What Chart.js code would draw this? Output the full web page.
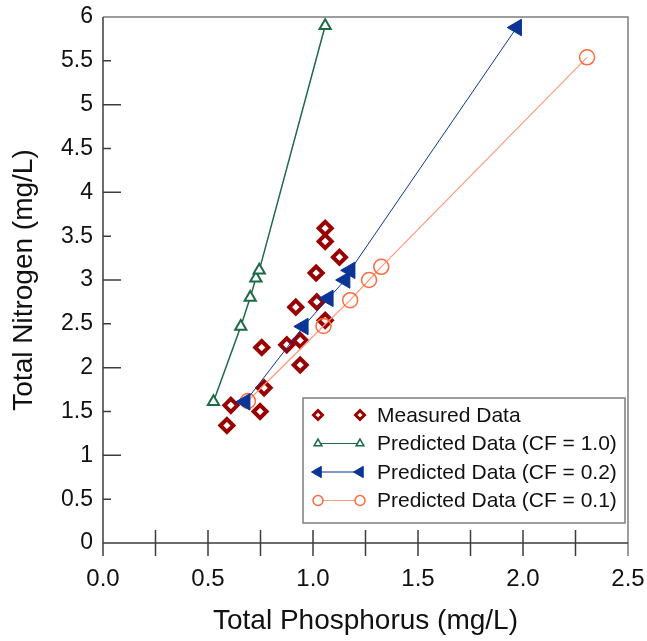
<!DOCTYPE html>
<html>
<head>
<meta charset="utf-8">
<script src="https://cdn.jsdelivr.net/npm/chart.js@4.4.1/dist/chart.umd.min.js"></script>
<style>
    html, body { margin: 0; padding: 0; background: #fff; }
    #wrap { width: 647px; height: 641px; }
</style>
</head>
<body>
<div id="wrap"><canvas id="tnChart"></canvas></div>
<script>
const measuredTP = [1.058, 1.058, 1.126, 1.015, 1.018, 0.918, 1.058, 0.939, 0.875, 0.756, 0.939, 0.767, 0.609, 0.748, 0.590];
const measuredTN = [3.59, 3.44, 3.26, 3.08, 2.75, 2.69, 2.54, 2.31, 2.26, 2.23, 2.03, 1.77, 1.57, 1.50, 1.34];

// predicted, CF = 1.0
const cf10TP = [0.526, 0.656, 0.701, 0.728, 0.744, 1.058];
const cf10TN = [1.61, 2.47, 2.80, 3.02, 3.11, 5.90];

// predicted, CF = 0.2
const cf02TP = [0.677, 0.954, 1.073, 1.153, 1.177, 1.970];
const cf02TN = [1.61, 2.47, 2.79, 3.00, 3.11, 5.88];

// predicted, CF = 0.1
const cf01TP = [0.690, 1.050, 1.177, 1.267, 1.325, 2.305];
const cf01TN = [1.62, 2.475, 2.77, 3.00, 3.15, 5.54];

const seriesLabels = [
    "Measured Data",
    "Predicted Data (CF = 1.0)",
    "Predicted Data (CF = 0.2)",
    "Predicted Data (CF = 0.1)"
];

const toPts = (xs, ys) => xs.map((v, i) => ({ x: v, y: ys[i] }));

const FONT = "'Liberation Sans', Arial, sans-serif";
const RED = '#990000';
const GREEN = '#1d6a47';
const BLUE = '#0a3597';
const ORANGE = '#ff6a3d';
const ORANGE_LINE = '#ff9a7a';

// axis frame + tick marks crossing the axis like the original
const framePlugin = {
    id: 'frame',
    beforeDatasetsDraw(chart) {
        const { ctx, chartArea: a, scales: { x, y } } = chart;
        ctx.save();
        ctx.lineWidth = 1.5;
        // top and right border
        ctx.strokeStyle = '#7d7d7d';
        ctx.beginPath();
        ctx.moveTo(a.left, a.top);
        ctx.lineTo(a.right, a.top);
        ctx.lineTo(a.right, a.bottom + 13);
        ctx.stroke();
        // axes
        ctx.strokeStyle = '#3c3c3c';
        ctx.beginPath();
        ctx.moveTo(a.left, a.top);
        ctx.lineTo(a.left, a.bottom + 13);
        ctx.moveTo(a.left, a.bottom);
        ctx.lineTo(a.right, a.bottom);
        // x ticks every 0.25
        for (let v = 0.25; v < 2.5; v += 0.25) {
            const px = x.getPixelForValue(v);
            ctx.moveTo(px, a.bottom - 13);
            ctx.lineTo(px, a.bottom + 13);
        }
        // y ticks, long on integers
        y.ticks.forEach(t => {
            if (t.value <= 0 || t.value >= 6) return;
            const py = y.getPixelForValue(t.value);
            const len = Number.isInteger(t.value) ? 18 : 8;
            ctx.moveTo(a.left, py);
            ctx.lineTo(a.left + len, py);
        });
        ctx.stroke();
        ctx.restore();
    }
};

// boxed legend in the lower right corner
const legendPlugin = {
    id: 'boxLegend',
    afterDraw(chart) {
        const { ctx, chartArea: a } = chart;
        const bx = a.left + 200, by = a.top + 381, bw = 322, bh = 125;
        ctx.save();
        ctx.fillStyle = '#fff';
        ctx.fillRect(bx, by, bw, bh);
        ctx.strokeStyle = '#7d7d7d';
        ctx.lineWidth = 1.5;
        ctx.strokeRect(bx, by, bw, bh);

        const marks = [
            { style: 'rectRot', r: 4.5, bw: 3, stroke: RED, fill: '#fff', rot: 0, line: null },
            { style: 'triangle', r: 4.5, bw: 1.5, stroke: GREEN, fill: '#fff', rot: 0, line: GREEN },
            { style: 'triangle', r: 6.5, bw: 1, stroke: BLUE, fill: BLUE, rot: -90, line: BLUE },
            { style: 'circle', r: 5, bw: 1.5, stroke: ORANGE, fill: '#fff', rot: 0, line: ORANGE_LINE }
        ];
        const x1 = bx + 15, x2 = bx + 57;
        marks.forEach((m, i) => {
            const cy = by + 17 + i * 28.5;
            if (m.line) {
                ctx.strokeStyle = m.line;
                ctx.lineWidth = 1.2;
                ctx.beginPath();
                ctx.moveTo(x1, cy);
                ctx.lineTo(x2, cy);
                ctx.stroke();
            }
            [x1, x2].forEach(px => {
                ctx.fillStyle = m.fill;
                ctx.strokeStyle = m.stroke;
                ctx.lineWidth = m.bw;
                Chart.helpers.drawPoint(ctx, { pointStyle: m.style, radius: m.r, rotation: m.rot, borderWidth: m.bw }, px, cy);
            });
            ctx.fillStyle = '#111';
            ctx.font = '21px ' + FONT;
            ctx.textBaseline = 'middle';
            ctx.textAlign = 'left';
            ctx.fillText(seriesLabels[i], bx + 74, cy + 1);
        });
        ctx.restore();
    }
};

const ctx = document.getElementById("tnChart").getContext("2d");

new Chart(ctx, {
    type: 'scatter',
    data: {
        datasets: [
            // predicted CF = 1.0
            {
                label: seriesLabels[1],
                data: toPts(cf10TP, cf10TN),
                showLine: true,
                borderColor: GREEN,
                borderWidth: 1.5,
                pointStyle: 'triangle',
                pointRadius: 6.5,
                pointBorderWidth: 2,
                pointBorderColor: GREEN,
                pointBackgroundColor: '#fff',
                clip: false
            },
            // predicted CF = 0.2
            {
                label: seriesLabels[2],
                data: toPts(cf02TP, cf02TN),
                showLine: true,
                borderColor: BLUE,
                borderWidth: 1,
                pointStyle: 'triangle',
                pointRotation: -90,
                pointRadius: 9.5,
                pointBorderWidth: 1,
                pointBorderColor: BLUE,
                pointBackgroundColor: BLUE,
                clip: false
            },
            // predicted CF = 0.1
            {
                label: seriesLabels[3],
                data: toPts(cf01TP, cf01TN),
                showLine: true,
                borderColor: ORANGE_LINE,
                borderWidth: 1.2,
                pointStyle: 'circle',
                pointRadius: 7.5,
                pointBorderWidth: 1.5,
                pointBorderColor: ORANGE,
                pointBackgroundColor: 'rgba(255,255,255,0)',
                clip: false
            },
            // measured
            {
                label: seriesLabels[0],
                data: toPts(measuredTP, measuredTN),
                showLine: false,
                pointStyle: 'rectRot',
                pointRadius: 6.5,
                pointBorderWidth: 4,
                pointBorderColor: RED,
                pointBackgroundColor: '#fff',
                clip: false
            }
        ]
    },
    options: {
        responsive: true,
        maintainAspectRatio: false,
        animation: false,
        events: [],
        layout: {
            padding: { left: 0, right: 19, top: 17, bottom: 0 }
        },
        plugins: {
            legend: { display: false },
            tooltip: { enabled: false }
        },
        scales: {
            x: {
                type: 'linear',
                min: 0,
                max: 2.5,
                afterFit(scale) {
                    scale.height = 98;
                    scale.paddingLeft = 0;
                    scale.paddingRight = 0;
                },
                grid: { display: false, drawTicks: false },
                border: { display: false },
                ticks: {
                    stepSize: 0.5,
                    padding: 22,
                    color: '#111',
                    font: { family: FONT, size: 24 },
                    callback: v => v.toFixed(1)
                },
                title: {
                    display: true,
                    text: 'Total Phosphorus (mg/L)',
                    color: '#111',
                    font: { family: FONT, size: 28 },
                    padding: { top: 0, bottom: 3 }
                }
            },
            y: {
                type: 'linear',
                min: 0,
                max: 6,
                afterFit(scale) {
                    scale.width = 103;
                    scale.paddingTop = 0;
                    scale.paddingBottom = 0;
                },
                grid: { display: false, drawTicks: false },
                border: { display: false },
                ticks: {
                    stepSize: 0.5,
                    padding: 10,
                    color: '#111',
                    font: { family: FONT, size: 23 },
                    callback: v => String(Math.round(v * 10) / 10)
                },
                title: {
                    display: true,
                    text: 'Total Nitrogen (mg/L)',
                    color: '#111',
                    font: { family: FONT, size: 28 },
                    padding: { top: 7, bottom: 0 }
                }
            }
        }
    },
    plugins: [framePlugin, legendPlugin]
});
</script>
</body>
</html>
